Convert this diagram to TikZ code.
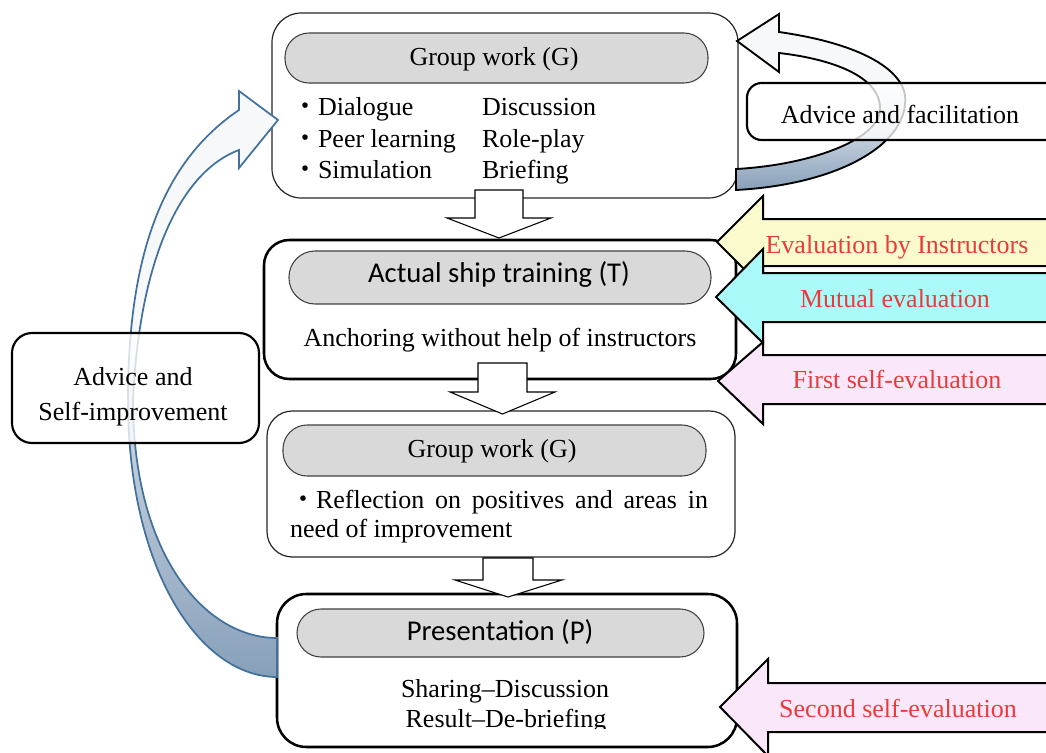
\documentclass[tikz,border=0pt]{standalone}
\usepackage{fontspec}
\setmainfont{Liberation Serif}
\newfontfamily\calib{Carlito}
\newfontfamily\cjk{Noto Sans CJK JP}
\usetikzlibrary{fit}

\definecolor{pillgray}{RGB}{217,217,217}
\definecolor{evalyellow}{RGB}{250,250,205}
\definecolor{evalcyan}{RGB}{170,250,250}
\definecolor{evalpink}{RGB}{250,232,250}
\definecolor{evalred}{RGB}{232,60,60}
\definecolor{steel}{RGB}{65,113,156}
\definecolor{banddark}{RGB}{135,160,186}
\definecolor{bandmid}{RGB}{196,207,220}
\definecolor{bandlight}{RGB}{246,248,250}

% vertical gradients for the two curved feedback arrows (bottom dark, top light)
\pgfdeclareverticalshading{leftband}{100bp}{color(0bp)=(banddark); color(25bp)=(banddark);
  color(45bp)=(bandmid); color(53bp)=(bandlight); color(75bp)=(bandlight); color(100bp)=(bandlight)}
\pgfdeclareverticalshading{rightband}{100bp}{color(0bp)=(banddark); color(25bp)=(banddark);
  color(40bp)=(bandmid); color(55bp)=(bandlight); color(75bp)=(bandlight); color(100bp)=(bandlight)}

% bullet mark set in the Japanese font
\newcommand{\bul}{{\cjk ・}}

\begin{document}
\begin{tikzpicture}[x=0.75pt,y=-0.75pt,
  every node/.style={inner sep=0pt, outer sep=0pt},
  body/.style={font=\fontsize{19.5}{23.6}\selectfont},
  sans/.style={font=\calib\fontsize{21.5}{26}\selectfont},
  evaltext/.style={font=\fontsize{19.5}{23.6}\selectfont, text=evalred, anchor=base},
  thinstage/.style={draw=black!85, line width=0.9pt, fill=white},
  boldstage/.style={draw=black, line width=1.9pt, fill=white},
  pill/.style={draw=black!75, line width=0.8pt, fill=pillgray, rounded corners=18pt},
  sidebox/.style={draw=black, line width=1.6pt, fill=white, fill opacity=0.78},
  downarrow/.style={draw=black, line width=0.8pt, fill=white, line join=miter},
  evalarrow/.style={draw=black, line width=1.5pt, line join=miter},
]
\useasboundingbox (0,0) rectangle (1046,753);
\clip (0,0) rectangle (1046,753);
\fill[white] (0,0) rectangle (1046,753);

% ---- stage boxes ----
\node[thinstage, rounded corners=22pt, fit={(272,13) (738,198)}] (g1) {};
\node[boldstage, rounded corners=19pt, fit={(264,240) (736,379)}] (st) {};
\node[thinstage, rounded corners=19pt, fit={(267,411) (735,557)}] (g2) {};
\node[boldstage, rounded corners=22pt, fit={(277,594) (737,747)}] (pr) {};

% ---- title pills ----
\node[pill, fit={(285,33) (708,83)}] (g1p) {};
\node[pill, rounded corners=19.5pt, fit={(289,251) (711,304)}] (stp) {};
\node[pill, fit={(283,425) (706,476)}] (g2p) {};
\node[pill, fit={(297,609) (704,657)}] (prp) {};

\node[body, anchor=base] (g1t) at (494,65) {Group work (G)};
\node[sans, anchor=base] (stt) at (499,282) {Actual ship training (T)};
\node[body, anchor=base] (g2t) at (492,457) {Group work (G)};
\node[sans, anchor=base] (prt) at (500,640) {Presentation (P)};

% ---- box contents ----
\node[body, anchor=base west] (l1) at (292,115) {\bul Dialogue};
\node[body, anchor=base west] (l2) at (292,147) {\bul Peer learning};
\node[body, anchor=base west] (l3) at (292,178) {\bul Simulation};
\node[body, anchor=base west] (r1) at (482,115) {Discussion};
\node[body, anchor=base west] (r2) at (482,147) {Role-play};
\node[body, anchor=base west] (r3) at (482,178) {Briefing};

\node[body, anchor=base] (anch) at (500,346) {Anchoring without help of instructors};

\node[body, anchor=base west] (refl1) at (290,508)
  {\makebox[313.5pt][s]{\bul Reflection on positives and areas in}};
\node[body, anchor=base west] (refl2) at (290,537) {need of improvement};

\begin{scope}
  \clip (280,600) rectangle (735,728);
  \node[body, anchor=base] (share) at (505,697) {Sharing–Discussion};
  \node[body, anchor=base] (result) at (506,727) {Result–De-briefing};
\end{scope}

% ---- block arrows between stages ----
\draw[downarrow] (475,190) -- (475,218) -- (447,218) -- (499,238) -- (551,218) -- (523,218) -- (523,190) -- cycle;
\draw[downarrow] (478,363) -- (478,392) -- (450,392) -- (502.5,414) -- (555,392) -- (527,392) -- (527,363) -- cycle;
\draw[downarrow] (483,558) -- (483,580) -- (455,580) -- (508,597) -- (562,580) -- (533,580) -- (533,558) -- cycle;

% ---- evaluation arrows ----
\draw[evalarrow, fill=evalyellow] (717,242) -- (763,196) -- (763,219) -- (1070,219) -- (1070,266) -- (763,266) -- (763,288) -- cycle;
\draw[evalarrow, fill=evalcyan] (716,297) -- (763,249) -- (763,273) -- (1070,273) -- (1070,322) -- (763,322) -- (763,343) -- cycle;
\draw[evalarrow, fill=evalpink] (718,381) -- (763,342) -- (763,355) -- (1070,355) -- (1070,404) -- (763,404) -- (763,424) -- cycle;
\draw[evalarrow, fill=evalpink] (720,707) -- (768,659) -- (768,683) -- (1070,683) -- (1070,732) -- (768,732) -- (768,756) -- cycle;

\node[evaltext] (e1) at (897,253) {Evaluation by Instructors};
\node[evaltext] (e2) at (895,307) {Mutual evaluation};
\node[evaltext] (e3) at (897,388) {First self-evaluation};
\node[evaltext] (e4) at (898,717) {Second self-evaluation};

% ---- curved arrow: advice and facilitation ----
\draw[shade, shading=rightband, draw=black, line width=1.4pt, line join=miter]
  (737,41) -- (779,14) -- (779,32)
  .. controls (870,45) and (910,75) .. (905,105)
  .. controls (900,150) and (830,185) .. (736,190)
  -- (736,169)
  .. controls (810,165) and (878,140) .. (880,110)
  .. controls (882,80) and (840,60) .. (779,53)
  -- (779,72) -- cycle;
\node[sidebox, rounded corners=11pt, fit={(747,83) (1075,140)}] (adv) {};
\node[body, anchor=base] (advt) at (900,123) {Advice and facilitation};

% ---- curved arrow: advice and self-improvement ----
\draw[shade, shading=leftband, draw=steel, line width=1.3pt, line join=miter]
  (278,120) -- (239,91) -- (239,110)
  .. controls (165,160) and (128,250) .. (128,400)
  .. controls (128,570) and (200,677) .. (277,677)
  -- (277,638)
  .. controls (205,638) and (133,555) .. (133,400)
  .. controls (140,250) and (185,170) .. (239,150)
  -- (239,168) -- cycle;
\node[sidebox, rounded corners=15pt, fit={(12,333) (259,443)}] (self) {};
\node[body, anchor=base] (selft1) at (133,385) {Advice and};
\node[body, anchor=base] (selft2) at (133,420) {Self-improvement};
\end{tikzpicture}
\end{document}
